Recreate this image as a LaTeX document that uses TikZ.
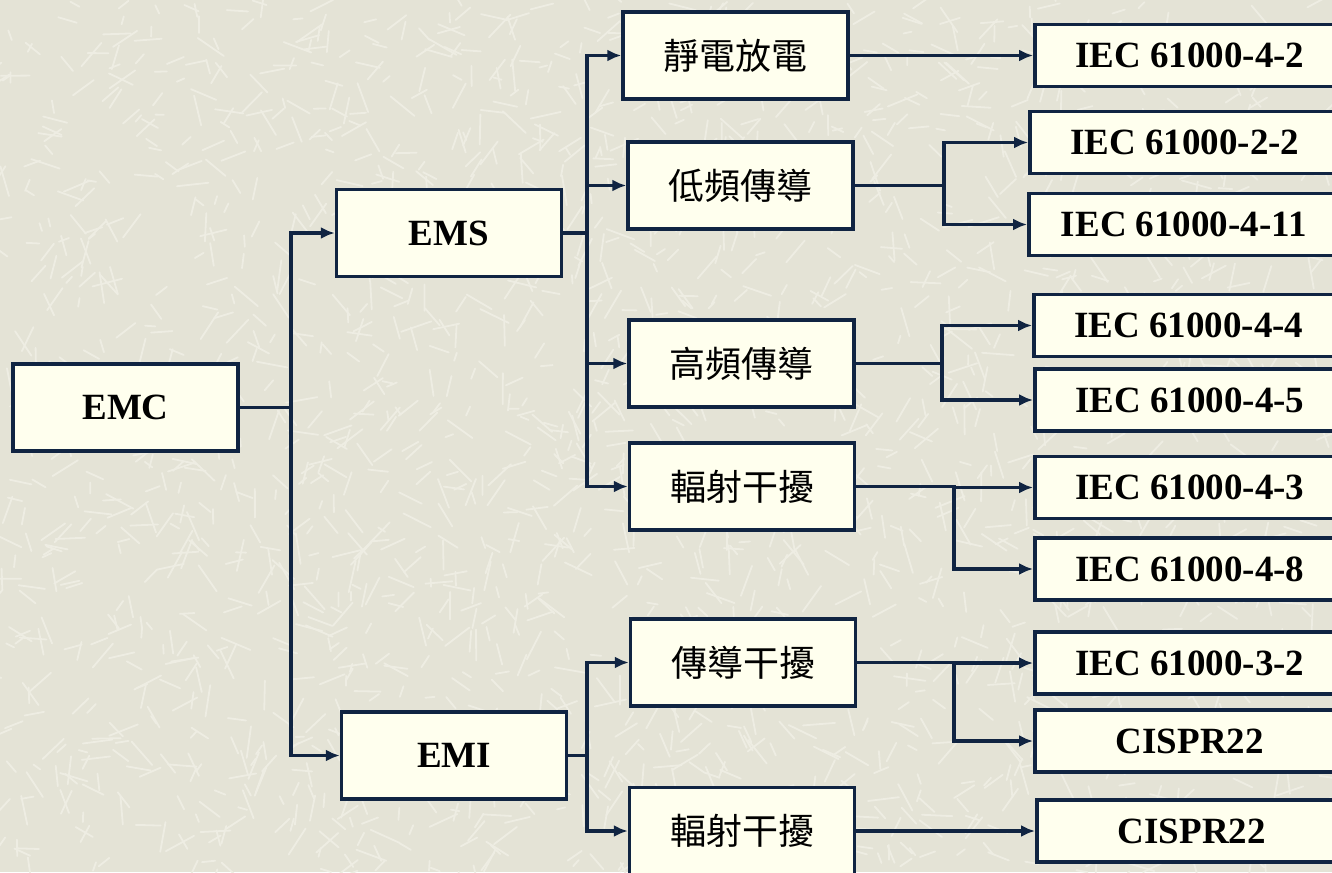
\documentclass[tikz,border=0pt]{standalone}
\usepackage{fontspec}
\setmainfont{Liberation Serif}
\newfontfamily\cjk{Noto Sans CJK TC}
\usetikzlibrary{arrows.meta}
\definecolor{bgc}{RGB}{228,227,214}
\definecolor{bgs}{RGB}{238,237,227}
\definecolor{ivory}{RGB}{255,255,238}
\definecolor{navy}{RGB}{16,36,66}
\tikzset{
  box/.style={draw=navy, line width=3.5pt, fill=ivory, minimum width=225pt, minimum height=87pt, inner sep=0pt,
    font=\fontsize{37}{40}\selectfont\bfseries},
  cbox/.style={box, font=\cjk\fontsize{36}{40}\selectfont},
  std/.style={draw=navy, line width=3.5pt, fill=ivory, minimum width=310pt, minimum height=62pt, inner sep=0pt,
    anchor=west, font=\fontsize{37}{40}\selectfont\bfseries},
  arr/.style={draw=navy, line width=3.8pt, -{Latex[length=14pt,width=12pt]}},
  grain/.style={draw=bgs, line width=1.8pt, line cap=round},
}
\begin{document}
\begin{tikzpicture}[x=1pt,y=-1pt]
\clip (0,0) rectangle (1332,872);
\fill[bgc] (0,0) rectangle (1332,872);
\pgfmathsetseed{7}
\foreach \i in {1,...,2200}{
  \pgfmathsetmacro{\px}{rnd*1332}
  \pgfmathsetmacro{\py}{rnd*872}
  \pgfmathsetmacro{\pa}{rnd*360}
  \pgfmathsetmacro{\pl}{8+rnd*24}
  \draw[grain] (\px,\py) -- ++(\pa:\pl);
}
% level 0-1
\node[box] (emc) at (125.5,407.5) {EMC};
\node[box] (ems) at (449,233) {EMS};
\node[box] (emi) at (454,755.5) {EMI};
% level 2
\node[cbox] (esd) at (735.5,55.5) {靜電放電};
\node[cbox] (lf) at (740.5,185.5) {低頻傳導};
\node[cbox] (hf) at (741.5,363.5) {高頻傳導};
\node[cbox] (rs) at (742,486.5) {輻射干擾};
\node[cbox] (ce) at (743,662.5) {傳導干擾};
\node[cbox] (re) at (742,831) {輻射干擾};
% level 3
\node[std] (s1) at (1033,55.5) {IEC 61000-4-2};
\node[std] (s2) at (1028,142.5) {IEC 61000-2-2};
\node[std] (s3) at (1027,224.5) {IEC 61000-4-11};
\node[std] (s4) at (1032,325.5) {IEC 61000-4-4};
\node[std] (s5) at (1033,400) {IEC 61000-4-5};
\node[std] (s6) at (1033,487.5) {IEC 61000-4-3};
\node[std] (s7) at (1033,569) {IEC 61000-4-8};
\node[std] (s8) at (1033,663) {IEC 61000-3-2};
\node[std] (s9) at (1033,741) {CISPR22};
\node[std] (s10) at (1035,831) {CISPR22};
% connectors
\draw[arr] (emc.east) -- ++(51,0) |- (ems.west);
\draw[arr] (emc.east) -- ++(51,0) |- (emi.west);
\foreach \c in {esd,lf,hf,rs}
  \draw[arr] (ems.east) -- ++(24,0) |- (\c.west);
\draw[arr] (emi.east) -- ++(19,0) |- (ce.west);
\draw[arr] (emi.east) -- ++(19,0) |- (re.west);
\draw[arr] (esd.east) -- (s1.west);
\draw[arr] (lf.east) -- ++(89,0) |- (s2.west);
\draw[arr] (lf.east) -- ++(89,0) |- (s3.west);
\draw[arr] (hf.east) -- ++(86,0) |- (s4.west);
\draw[arr] (hf.east) -- ++(86,0) |- (s5.west);
\draw[arr] (rs.east) -- ++(98,0) |- (s6.west);
\draw[arr] (rs.east) -- ++(98,0) |- (s7.west);
\draw[arr] (ce.east) -- ++(97,0) |- (s8.west);
\draw[arr] (ce.east) -- ++(97,0) |- (s9.west);
\draw[arr] (re.east) -- (s10.west);
\end{tikzpicture}
\end{document}
